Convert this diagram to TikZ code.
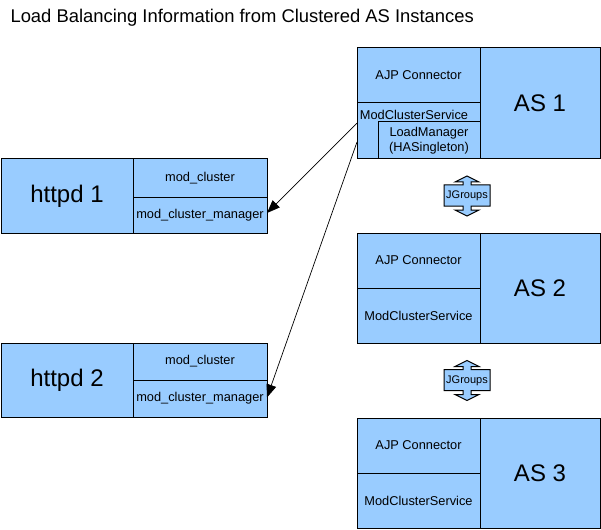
\documentclass[tikz,border=0pt]{standalone}
\usepackage{fontspec}
\setmainfont{Liberation Sans}
\usetikzlibrary{arrows.meta}
\definecolor{boxblue}{HTML}{99CCFF}
\begin{document}
\begin{tikzpicture}[x=1pt,y=-1pt,
  box/.style={draw=black,fill=boxblue,line width=1pt,inner sep=0pt,outer sep=0pt,anchor=north west,align=center},
  big/.style={font=\fontsize{24}{28}\selectfont},
  small/.style={font=\fontsize{12.8}{15.5}\selectfont},
  tiny/.style={font=\fontsize{11}{13}\selectfont},
  link/.style={line width=0.7pt,-{Triangle[length=13pt,width=10pt]}},
  jg/.style={draw=black,fill=boxblue,line width=1pt,line join=miter}]
\useasboundingbox (0,0) rectangle (601,529);
\node[anchor=west,font=\fontsize{18.4}{22}\selectfont] (title) at (7,18) {Load Balancing Information from Clustered AS Instances};

% AS 1
\node[box,big,minimum width=120pt,minimum height=111pt] (as1) at (480,48) {AS 1};
\node[box,small,minimum width=123pt,minimum height=55pt] (as1ajp) at (357,48) {AJP Connector};
\node[box,minimum width=123pt,minimum height=56pt] (as1mcs) at (357,103) {};
\node[small,inner sep=0pt] (as1mcslabel) at (414,115) {ModClusterService};
\node[box,small,minimum width=102pt,minimum height=37pt] (as1lm) at (378,122) {LoadManager\\(HASingleton)};

% AS 2
\node[box,big,minimum width=120pt,minimum height=110pt] (as2) at (480,233) {AS 2};
\node[box,small,minimum width=123pt,minimum height=55pt] (as2ajp) at (357,233) {AJP Connector};
\node[box,small,minimum width=123pt,minimum height=55pt] (as2mcs) at (357,288) {ModClusterService};

% AS 3
\node[box,big,minimum width=120pt,minimum height=110pt] (as3) at (480,418) {AS 3};
\node[box,small,minimum width=123pt,minimum height=55pt] (as3ajp) at (357,418) {AJP Connector};
\node[box,small,minimum width=123pt,minimum height=55pt] (as3mcs) at (357,473) {ModClusterService};

% httpd 1
\node[box,big,minimum width=132pt,minimum height=74pt] (h1) at (1,159) {httpd 1};
\node[box,small,minimum width=134pt,minimum height=38pt] (h1mc) at (133,159) {mod\_cluster};
\node[box,small,minimum width=134pt,minimum height=36pt] (h1mgr) at (133,197) {mod\_cluster\_manager};

% httpd 2
\node[box,big,minimum width=132pt,minimum height=74pt] (h2) at (1,343) {httpd 2};
\node[box,small,minimum width=134pt,minimum height=37pt] (h2mc) at (133,343) {mod\_cluster};
\node[box,small,minimum width=134pt,minimum height=37pt] (h2mgr) at (133,380) {mod\_cluster\_manager};

% connectors
\draw[link] ([yshift=8pt]as1mcs.west) -- ([yshift=2pt]h1mgr.east);
\draw[link] ([yshift=-11pt]as1mcs.west) -- ([yshift=1pt]h2mgr.east);

% JGroups double arrows
\foreach \n/\c in {jga/196,jgb/380.5}{
  \draw[jg] (467,\c-20) -- (479,\c-14) -- (471,\c-14) -- (471,\c-11) -- (490,\c-11)
    -- (490,\c+10) -- (471,\c+10) -- (471,\c+14) -- (479,\c+14) -- (467,\c+20)
    -- (455,\c+14) -- (463,\c+14) -- (463,\c+10) -- (444,\c+10) -- (444,\c-11)
    -- (463,\c-11) -- (463,\c-14) -- (455,\c-14) -- cycle;
  \node[tiny,inner sep=0pt] (\n) at (467,\c) {JGroups};
}
\end{tikzpicture}
\end{document}
